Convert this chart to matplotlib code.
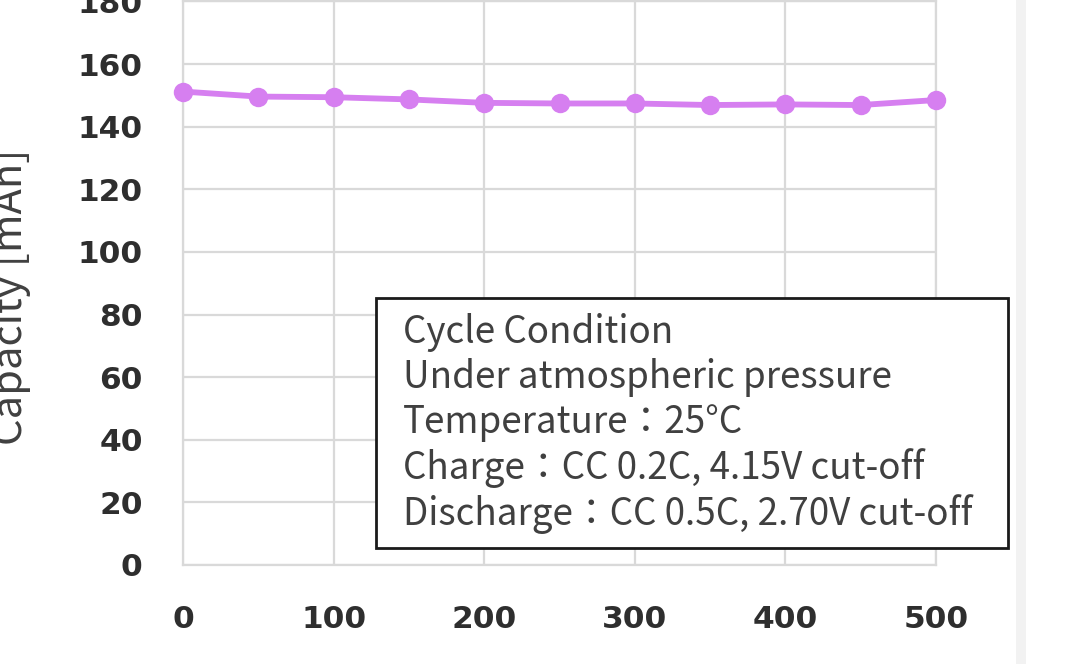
import matplotlib
matplotlib.use("Agg")
import matplotlib.pyplot as plt
from matplotlib.patches import Rectangle

cycles = [0, 50, 100, 150, 200, 250, 300, 350, 400, 450, 500]
capacity = [151.2, 149.6, 149.4, 148.7, 147.6, 147.4, 147.4, 146.9, 147.1, 146.9, 148.5]
x_ticks = [0, 100, 200, 300, 400, 500]
y_ticks = [0, 20, 40, 60, 80, 100, 120, 140, 160, 180]
y_label = "Capacity [mAh]"
box_lines = [
    "Cycle Condition",
    "Under atmospheric pressure",
    "Temperature：25°C",
    "Charge：CC 0.2C, 4.15V cut-off",
    "Discharge：CC 0.5C, 2.70V cut-off",
]

W, H = 1077, 664
fig = plt.figure(figsize=(W / 100, H / 100), dpi=100)
fig.patch.set_facecolor("white")

# light strip at right edge of the original chart image
fig.patches.append(Rectangle((1016 / W, 0), 10 / W, 1, transform=fig.transFigure,
                             facecolor="#f2f2f2", edgecolor="none", zorder=0))

ax = fig.add_axes([183 / W, 99 / H, (936 - 183) / W, (662.6 - 99) / H])
ax.plot(cycles, capacity, color="#d67ff0", lw=4.2, marker="o", ms=14,
        markeredgewidth=0, zorder=3, clip_on=False)
ax.set_xlim(0, 500)
ax.set_ylim(0, 180)
ax.set_xticks(x_ticks)
ax.set_yticks(y_ticks)
ax.grid(True, color="#d9d9d9", lw=1.6)
ax.set_axisbelow(True)
for s in ax.spines.values():
    s.set_color("#d9d9d9")
    s.set_linewidth(1.6)
ax.tick_params(length=0, labelsize=22.5, colors="#2e2e2e")
ax.tick_params(axis="y", pad=29)
ax.tick_params(axis="x", pad=29)
for lab in ax.get_xticklabels() + ax.get_yticklabels():
    lab.set_fontweight("semibold")
    lab.set_family("DejaVu Sans")

fig.text(31 / W, 1 - 297 / H, y_label, rotation=90, ha="right", va="center",
         fontsize=30, color="#404040", family=["Noto Sans CJK JP", "DejaVu Sans"])

# condition box
fig.patches.append(Rectangle((376 / W, 1 - 548 / H), (1008 - 376) / W, (548 - 298) / H,
                             transform=fig.transFigure, facecolor="white",
                             edgecolor="#1a1a1a", lw=2, zorder=5))
fig.text(403 / W, 1 - 313 / H, "\n".join(box_lines), ha="left", va="top",
         fontsize=26.5, color="#404040", linespacing=1.2,
         family=["Noto Sans CJK JP", "DejaVu Sans"], zorder=6)

fig.savefig("out.png", dpi=100)
